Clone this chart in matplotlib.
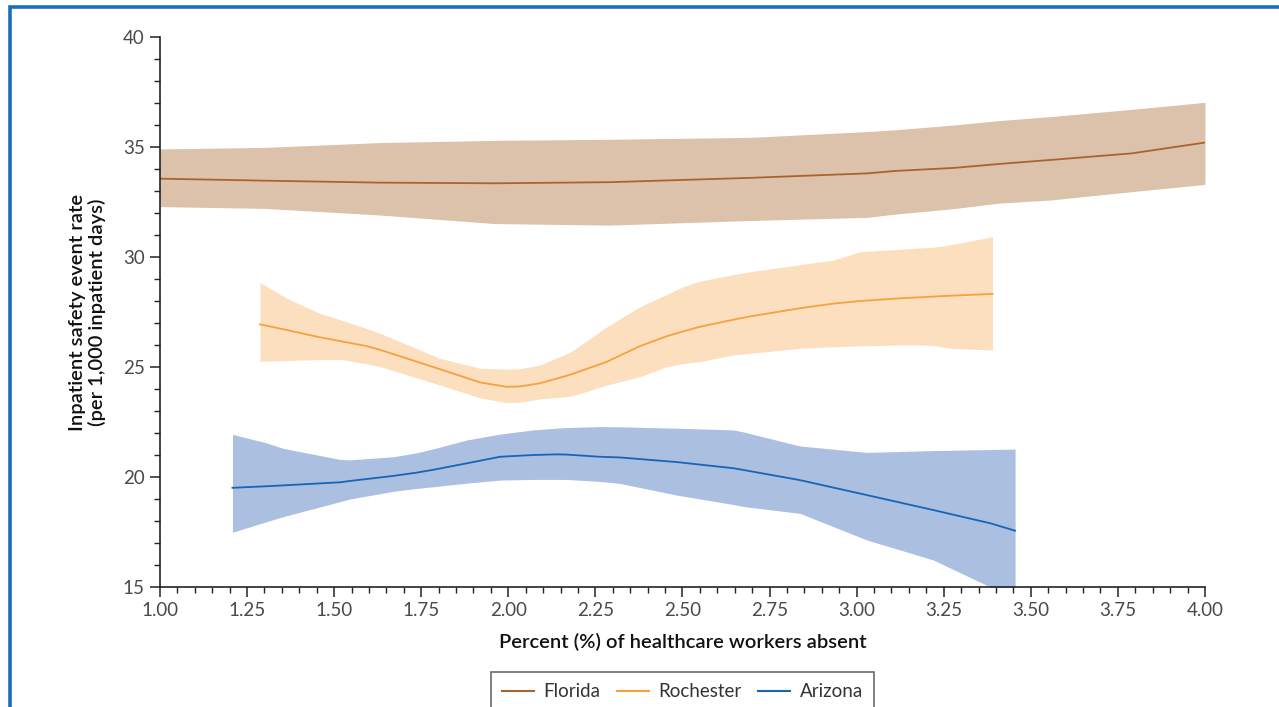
import matplotlib.pyplot as plt
from matplotlib.lines import Line2D
from matplotlib.patches import Rectangle
from matplotlib.ticker import MultipleLocator, FormatStrFormatter

plt.rcParams['font.family'] = ['Lato', 'DejaVu Sans']

# Florida: absence rate vs. event rate, with confidence band
fl_x = [1.00, 1.30, 1.63, 1.96, 2.29, 2.62, 2.70, 3.03, 3.11, 3.28, 3.41, 3.556, 3.79, 4.00]
fl_mid = [33.56, 33.47, 33.38, 33.35, 33.40, 33.56, 33.60, 33.80, 33.91, 34.05, 34.23, 34.41, 34.71, 35.20]
fl_hi = [34.91, 34.98, 35.20, 35.30, 35.35, 35.42, 35.44, 35.70, 35.78, 36.00, 36.20, 36.38, 36.71, 37.03]
fl_lo = [32.29, 32.21, 31.91, 31.52, 31.45, 31.62, 31.66, 31.80, 31.95, 32.20, 32.45, 32.59, 32.97, 33.30]

# Rochester
ro_x = [1.287, 1.373, 1.459, 1.517, 1.593, 1.632, 1.804, 1.919, 1.995, 2.034, 2.091, 2.167,
        2.187, 2.283, 2.378, 2.455, 2.502, 2.55, 2.646, 2.694, 2.837, 2.932, 3.01, 3.124,
        3.172, 3.219, 3.268, 3.39]
ro_mid = [26.94, 26.65, 26.35, 26.18, 25.95, 25.78, 24.90, 24.30, 24.10, 24.12, 24.26, 24.60,
          24.70, 25.24, 25.95, 26.40, 26.62, 26.83, 27.15, 27.30, 27.67, 27.88, 28.00, 28.12,
          28.16, 28.20, 28.24, 28.32]
ro_hi = [28.83, 28.05, 27.44, 27.15, 26.75, 26.53, 25.39, 24.94, 24.90, 24.92, 25.09, 25.60,
         25.77, 26.83, 27.74, 28.30, 28.65, 28.90, 29.20, 29.33, 29.65, 29.86, 30.24, 30.35,
         30.40, 30.44, 30.55, 30.92]
ro_lo = [25.26, 25.30, 25.34, 25.35, 25.15, 25.02, 24.18, 23.60, 23.38, 23.40, 23.55, 23.65,
         23.70, 24.18, 24.56, 25.02, 25.15, 25.25, 25.55, 25.62, 25.85, 25.92, 25.96, 26.00,
         26.00, 25.98, 25.85, 25.77]

# Arizona
az_x = [1.208, 1.306, 1.354, 1.517, 1.545, 1.67, 1.737, 1.785, 1.88, 1.976, 2.071, 2.139,
        2.167, 2.263, 2.32, 2.483, 2.646, 2.675, 2.837, 3.029, 3.22, 3.383, 3.455]
az_mid = [19.51, 19.58, 19.62, 19.76, 19.82, 20.05, 20.20, 20.33, 20.62, 20.92, 21.00, 21.03,
          21.02, 20.92, 20.89, 20.68, 20.40, 20.32, 19.86, 19.18, 18.50, 17.90, 17.56]
az_hi = [21.94, 21.55, 21.30, 20.80, 20.78, 20.92, 21.10, 21.28, 21.68, 21.95, 22.14, 22.22,
         22.25, 22.29, 22.28, 22.22, 22.14, 22.05, 21.41, 21.12, 21.20, 21.25, 21.27]
az_lo = [17.49, 17.97, 18.20, 18.88, 19.00, 19.35, 19.48, 19.56, 19.72, 19.86, 19.89, 19.89,
         19.89, 19.80, 19.71, 19.18, 18.75, 18.66, 18.35, 17.14, 16.23, 15.01, 14.60]

names = ['Florida', 'Rochester', 'Arizona']
line_colors = ['#a8642e', '#f7a13e', '#1665b8']
band_colors = ['#dcc2aa', '#fcdfbf', '#abbfe0']

fig = plt.figure(figsize=(12.79, 7.07), dpi=100)
ax = fig.add_axes([0.1251, 0.1697, 0.8170, 0.7780])

series = [(fl_x, fl_mid, fl_hi, fl_lo), (ro_x, ro_mid, ro_hi, ro_lo), (az_x, az_mid, az_hi, az_lo)]
for (x, mid, hi, lo), lc, bc in zip(series, line_colors, band_colors):
    ax.fill_between(x, lo, hi, color=bc, linewidth=0, zorder=1)
    ax.plot(x, mid, color=lc, linewidth=1.3, zorder=2)

ax.set_xlim(1.0, 4.0)
ax.set_ylim(15, 40)
ax.xaxis.set_major_locator(MultipleLocator(0.25))
ax.xaxis.set_minor_locator(MultipleLocator(0.05))
ax.yaxis.set_major_locator(MultipleLocator(5))
ax.yaxis.set_minor_locator(MultipleLocator(1))
ax.xaxis.set_major_formatter(FormatStrFormatter('%.2f'))

for s in ['top', 'right']:
    ax.spines[s].set_visible(False)
for s in ['left', 'bottom']:
    ax.spines[s].set_color('#222222')
    ax.spines[s].set_linewidth(1.2)

ax.tick_params(which='major', length=7, width=1.1, color='#222222',
               labelsize=13.5, labelcolor='#4a4a4a', pad=4)
ax.tick_params(which='minor', length=4, width=1.0, color='#222222')

ax.set_xlabel('Percent (%) of healthcare workers absent', fontsize=14.5,
              fontweight='semibold', color='#111111', labelpad=10)
ax.set_ylabel('Inpatient safety event rate\n(per 1,000 inpatient days)', fontsize=14.5,
              fontweight='semibold', color='#111111', labelpad=12, linespacing=1.1)

handles = [Line2D([], [], color=c, linewidth=1.5) for c in line_colors]
leg = fig.legend(handles, names, loc='upper center', bbox_to_anchor=(0.5335, 0.0495),
                 ncol=3, frameon=True, fancybox=False, fontsize=13.5, handlelength=1.7,
                 handletextpad=0.5, columnspacing=0.9, borderpad=0.6, borderaxespad=0)
leg.get_frame().set_edgecolor('#444444')
leg.get_frame().set_linewidth(1.2)
for t in leg.get_texts():
    t.set_color('#333333')

# blue panel frame running off the right and bottom edges
fig.patches.append(Rectangle((9.5 / 1279, -0.05), 1.05, 1 - 7 / 707 + 0.05,
                             transform=fig.transFigure, fill=False,
                             edgecolor='#1a6fbd', linewidth=2.6, zorder=10))

fig.savefig('out.png', dpi=100)
